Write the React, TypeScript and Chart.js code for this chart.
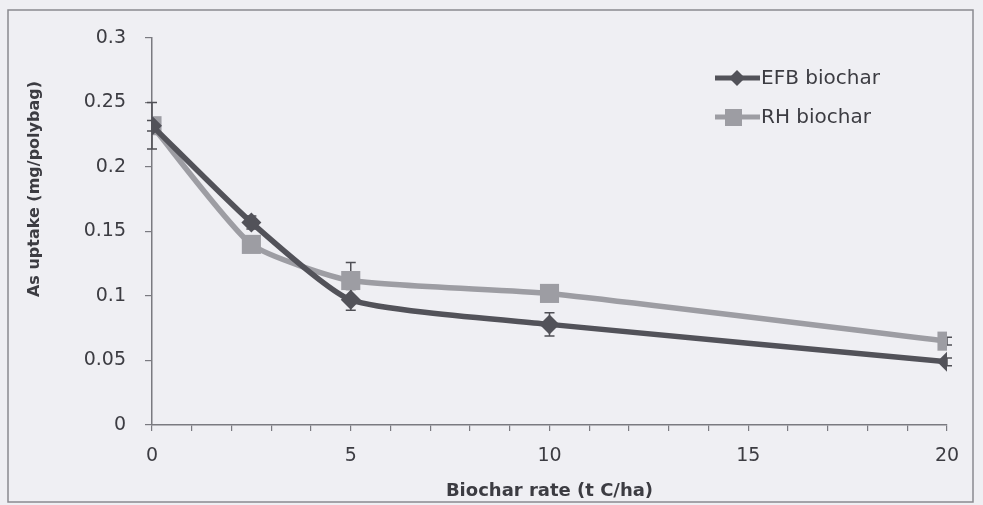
import React, { useEffect, useRef } from 'react';
import { Chart, registerables } from 'chart.js';

Chart.register(...registerables);

const biocharRates = [0, 2.5, 5, 10, 20];
const efbUptake = [0.232, 0.157, 0.097, 0.078, 0.049];
const rhUptake = [0.232, 0.14, 0.112, 0.102, 0.065];
const efbError = [0.018, 0.005, 0.008, 0.009, 0.003];
const rhError = [0.004, 0.004, 0.014, 0.004, 0.003];
const seriesNames = ['EFB biochar', 'RH biochar'];
const xTitle = 'Biochar rate (t C/ha)';
const yTitle = 'As uptake (mg/polybag)';
const xMajorStep = 5;

const EFB_COLOR = '#525259';
const RH_COLOR = '#9d9da3';
const AXIS_COLOR = '#7a7a80';
const TEXT_COLOR = '#3c3c42';
const FONT = '"DejaVu Sans", "Open Sans", sans-serif';

const errorBarPlugin = {
  id: 'errorBars',
  beforeDatasetsDraw(chart: any) {
    const ctx = chart.ctx;
    const xs = chart.scales.x;
    const ys = chart.scales.y;
    const errs = [efbError, rhError];
    ctx.save();
    ctx.strokeStyle = '#505056';
    ctx.lineWidth = 1.5;
    chart.data.datasets.forEach((ds: any, di: number) => {
      ds.data.forEach((p: any, i: number) => {
        const e = errs[di][i];
        const x = xs.getPixelForValue(p.x);
        const yt = ys.getPixelForValue(p.y + e);
        const yb = ys.getPixelForValue(p.y - e);
        ctx.beginPath();
        ctx.moveTo(x, yt);
        ctx.lineTo(x, yb);
        ctx.moveTo(x - 5, yt);
        ctx.lineTo(x + 5, yt);
        ctx.moveTo(x - 5, yb);
        ctx.lineTo(x + 5, yb);
        ctx.stroke();
      });
    });
    ctx.restore();
  },
};

const framePlugin = {
  id: 'frame',
  beforeDraw(chart: any) {
    const ctx = chart.ctx;
    ctx.save();
    ctx.fillStyle = '#efeff3';
    ctx.fillRect(0, 0, chart.width, chart.height);
    ctx.strokeStyle = '#8a8a90';
    ctx.lineWidth = 1.5;
    ctx.strokeRect(8, 10, 965, 492);
    ctx.restore();
  },
  afterDraw(chart: any) {
    const ctx = chart.ctx;
    ctx.save();
    // y-axis title
    ctx.fillStyle = TEXT_COLOR;
    ctx.font = `bold 16px ${FONT}`;
    ctx.textAlign = 'center';
    ctx.textBaseline = 'middle';
    ctx.translate(35, 189);
    ctx.rotate(-Math.PI / 2);
    ctx.fillText(yTitle, 0, 0);
    ctx.restore();

    // legend
    ctx.save();
    const colors = [EFB_COLOR, RH_COLOR];
    seriesNames.forEach((name, i) => {
      const y = 78 + i * 39;
      ctx.strokeStyle = colors[i];
      ctx.lineWidth = 5;
      ctx.beginPath();
      ctx.moveTo(715, y);
      ctx.lineTo(760, y);
      ctx.stroke();
      ctx.fillStyle = colors[i];
      ctx.beginPath();
      if (i === 0) {
        const cx = 737;
        ctx.moveTo(cx - 8, y);
        ctx.lineTo(cx, y - 8);
        ctx.lineTo(cx + 8, y);
        ctx.lineTo(cx, y + 8);
        ctx.closePath();
      } else {
        ctx.rect(725, y - 8, 17, 17);
      }
      ctx.fill();
      ctx.fillStyle = TEXT_COLOR;
      ctx.font = `20px ${FONT}`;
      ctx.textAlign = 'left';
      ctx.textBaseline = 'middle';
      ctx.fillText(name, 761, y + 1);
    });
    ctx.restore();
  },
};

export default function App() {
  const ref = useRef<HTMLCanvasElement | null>(null);
  useEffect(() => {
    if (!ref.current) return;
    const chart = new Chart(ref.current, {
      type: 'line',
      data: {
        datasets: [
          {
            label: seriesNames[0],
            data: biocharRates.map((x, i) => ({ x, y: efbUptake[i] })),
            borderColor: EFB_COLOR,
            backgroundColor: EFB_COLOR,
            borderWidth: 5.5,
            pointStyle: 'rectRot',
            pointRadius: 10,
            pointBorderWidth: 0,
            tension: 0.18,
          },
          {
            label: seriesNames[1],
            data: biocharRates.map((x, i) => ({ x, y: rhUptake[i] })),
            borderColor: RH_COLOR,
            backgroundColor: RH_COLOR,
            borderWidth: 5.5,
            pointStyle: 'rect',
            pointRadius: 13.5,
            pointBorderWidth: 0,
            tension: 0.18,
          },
        ],
      },
      options: {
        responsive: false,
        animation: false,
        layout: { padding: { top: 38, right: 36, left: 0, bottom: 0 } },
        plugins: { legend: { display: false }, tooltip: { enabled: false } },
        scales: {
          x: {
            type: 'linear',
            min: 0,
            max: 20,
            afterFit: (s: any) => { s.height = 80; },
            ticks: {
              stepSize: 1,
              autoSkip: false,
              maxRotation: 0,
              padding: 14,
              color: TEXT_COLOR,
              font: { family: FONT, size: 19 },
              callback: (v: any) => (Number(v) % xMajorStep === 0 ? String(v) : ''),
            },
            grid: { drawOnChartArea: false, tickLength: 6, color: AXIS_COLOR, lineWidth: 1.2 },
            border: { color: AXIS_COLOR, width: 1.5 },
            title: {
              display: true,
              text: xTitle,
              color: TEXT_COLOR,
              font: { family: FONT, size: 18, weight: 'bold' },
              padding: { top: 0, bottom: 3 },
            },
          },
          y: {
            type: 'linear',
            min: 0,
            max: 0.3,
            afterFit: (s: any) => { s.width = 152; },
            ticks: {
              stepSize: 0.05,
              padding: 19,
              color: TEXT_COLOR,
              font: { family: FONT, size: 19 },
              callback: (v: any) => String(Math.round(Number(v) * 100) / 100),
            },
            grid: { drawOnChartArea: false, tickLength: 7, color: AXIS_COLOR, lineWidth: 1.2 },
            border: { color: AXIS_COLOR, width: 1.5 },
          },
        },
      },
      plugins: [framePlugin, errorBarPlugin],
    } as any);
    return () => chart.destroy();
  }, []);
  return (
    <div style={{ position: 'absolute', left: 0, top: 0, width: 983, height: 505 }}>
      <canvas ref={ref} width={983} height={505} style={{ display: 'block' }} />
    </div>
  );
}
